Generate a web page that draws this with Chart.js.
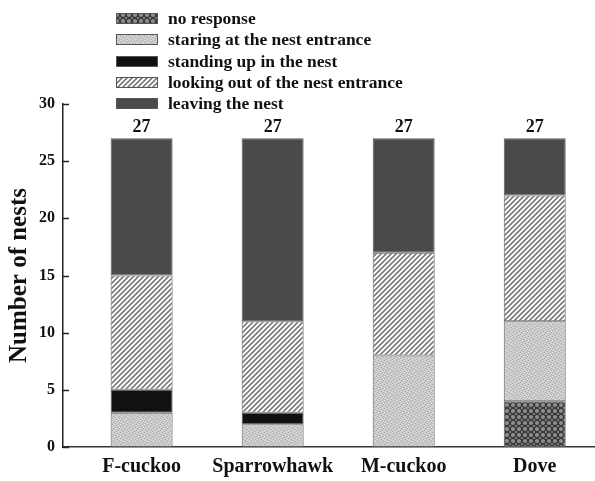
<!DOCTYPE html>
<html>
<head>
<meta charset="utf-8">
<script src="https://cdn.jsdelivr.net/npm/chart.js@4"></script>
<style>
  body { margin: 0; background: #fff; }
  #wrap { width: 595px; height: 481px; }
</style>
</head>
<body>
<div id="wrap"><canvas id="myChart"></canvas></div>
<script>
// data
var categories = ['F-cuckoo', 'Sparrowhawk', 'M-cuckoo', 'Dove'];
var noResponse = [0, 0, 0, 4];
var staring    = [3, 2, 8, 7];
var standing   = [2, 1, 0, 0];
var lookingOut = [10, 8, 9, 11];
var leaving    = [12, 16, 10, 5];
var yTicks     = [0, 5, 10, 15, 20, 25, 30];

var serif = "'Liberation Serif', 'Times New Roman', serif";

// fill patterns
function tile(w, h, draw) {
    var c = document.createElement('canvas');
    c.width = w; c.height = h;
    draw(c.getContext('2d'));
    return document.createElement('canvas').getContext('2d').createPattern(c, 'repeat');
}

var stipple = tile(6, 6, function (g) {
    g.fillStyle = '#cacaca';
    g.fillRect(0, 0, 6, 6);
    g.fillStyle = '#a9a9a9';
    [[0,0],[3,1],[1,3],[4,4],[5,2],[2,5]].forEach(function (p) { g.fillRect(p[0], p[1], 1, 1); });
    g.fillStyle = '#e2e2e2';
    [[2,0],[5,1],[0,4],[3,3],[1,2],[4,5]].forEach(function (p) { g.fillRect(p[0], p[1], 1, 1); });
});

var hatch = tile(5, 5, function (g) {
    g.fillStyle = '#ffffff';
    g.fillRect(0, 0, 5, 5);
    g.strokeStyle = '#7a7a7a';
    g.lineWidth = 1.6;
    g.beginPath();
    g.moveTo(-1, 6); g.lineTo(6, -1);
    g.moveTo(-1, 1); g.lineTo(1, -1);
    g.moveTo(4, 6); g.lineTo(6, 4);
    g.stroke();
});

var cross = tile(6, 6, function (g) {
    g.fillStyle = '#3a3a3a';
    g.fillRect(0, 0, 6, 6);
    g.fillStyle = '#8e8e8e';
    [[3, 3, 2.1], [0, 0, 1.1], [6, 0, 1.1], [0, 6, 1.1], [6, 6, 1.1]].forEach(function (d) {
        g.beginPath();
        g.arc(d[0], d[1], d[2], 0, Math.PI * 2);
        g.fill();
    });
});

function pts(arr) {
    return arr.map(function (v, i) { return { x: i, y: v }; });
}

var series = [
    { label: 'no response', data: noResponse, fill: cross },
    { label: 'staring at the nest entrance', data: staring, fill: stipple },
    { label: 'standing up in the nest', data: standing, fill: '#111111' },
    { label: 'looking out of the nest entrance', data: lookingOut, fill: hatch },
    { label: 'leaving the nest', data: leaving, fill: '#4a4a4a' }
];

// vertical legend in the top band
var legendPlugin = {
    id: 'stackLegend',
    afterDraw: function (chart) {
        var ctx = chart.ctx;
        ctx.save();
        ctx.font = 'bold 17.5px ' + serif;
        ctx.textBaseline = 'middle';
        chart.data.datasets.forEach(function (ds, i) {
            var y = Math.round(18 + i * 21.3);
            ctx.fillStyle = ds.backgroundColor;
            ctx.fillRect(116, y - 5, 42, 11);
            ctx.strokeStyle = '#555';
            ctx.lineWidth = 1;
            ctx.strokeRect(116.5, y - 4.5, 41, 10);
            ctx.fillStyle = '#111';
            ctx.fillText(ds.label, 168, y + 1);
        });
        ctx.restore();
    }
};

// totals above bars + inner tick marks on y axis
var extrasPlugin = {
    id: 'extras',
    afterDatasetsDraw: function (chart) {
        var ctx = chart.ctx, xs = chart.scales.x, ys = chart.scales.y;
        ctx.save();
        ctx.font = 'bold 18px ' + serif;
        ctx.fillStyle = '#111';
        ctx.textAlign = 'center';
        ctx.textBaseline = 'bottom';
        categories.forEach(function (c, i) {
            var total = series.reduce(function (s, d) { return s + d.data[i]; }, 0);
            ctx.fillText(String(total), xs.getPixelForValue(i), ys.getPixelForValue(total) - 2);
        });
        ctx.strokeStyle = '#222';
        ctx.lineWidth = 1.5;
        yTicks.forEach(function (v) {
            var y = Math.round(ys.getPixelForValue(v)) + 0.5;
            ctx.beginPath();
            ctx.moveTo(xs.left, y);
            ctx.lineTo(xs.left + 6, y);
            ctx.stroke();
        });
        ctx.restore();
    }
};

var ctx = document.getElementById('myChart').getContext('2d');

var myChart = new Chart(ctx, {
    type: 'bar',
    data: {
        datasets: series.map(function (s) {
            return {
                label: s.label,
                data: pts(s.data),
                backgroundColor: s.fill,
                borderColor: '#5a5a5a',
                borderWidth: 1,
                borderSkipped: false,
                categoryPercentage: 1,
                barPercentage: 0.473
            };
        })
    },
    plugins: [legendPlugin, extrasPlugin],
    options: {
        responsive: true,
        maintainAspectRatio: false,
        animation: false,
        layout: { padding: { top: 104, left: 0, right: 0, bottom: 0 } },
        plugins: {
            legend: { display: false },
            tooltip: { enabled: false }
        },
        scales: {
            x: {
                type: 'linear',
                stacked: true,
                offset: false,
                min: -0.6,
                max: 3.46,
                grid: { display: false, offset: false, drawTicks: false, tickLength: 0 },
                border: { display: true, color: '#333', width: 1.5 },
                afterBuildTicks: function (axis) {
                    axis.ticks = categories.map(function (c, i) { return { value: i }; });
                },
                afterFit: function (axis) { axis.height = 34; },
                ticks: {
                    autoSkip: false,
                    maxRotation: 0,
                    padding: 8,
                    color: '#111',
                    font: { family: serif, size: 20, weight: 'bold' },
                    callback: function (v) { return categories[v]; }
                }
            },
            y: {
                stacked: true,
                min: 0,
                max: 30,
                grid: { display: false, drawTicks: false, tickLength: 0 },
                border: { display: true, color: '#222', width: 1.5 },
                afterBuildTicks: function (axis) {
                    axis.ticks = yTicks.map(function (v) { return { value: v }; });
                },
                afterFit: function (axis) { axis.width = 63; },
                ticks: {
                    padding: 8,
                    color: '#111',
                    font: { family: serif, size: 16, weight: 'bold' }
                },
                title: {
                    display: true,
                    text: 'Number of nests',
                    color: '#111',
                    padding: { top: 5, bottom: 0 },
                    font: { family: serif, size: 25, weight: 'bold' }
                }
            }
        }
    }
});
</script>
</body>
</html>
